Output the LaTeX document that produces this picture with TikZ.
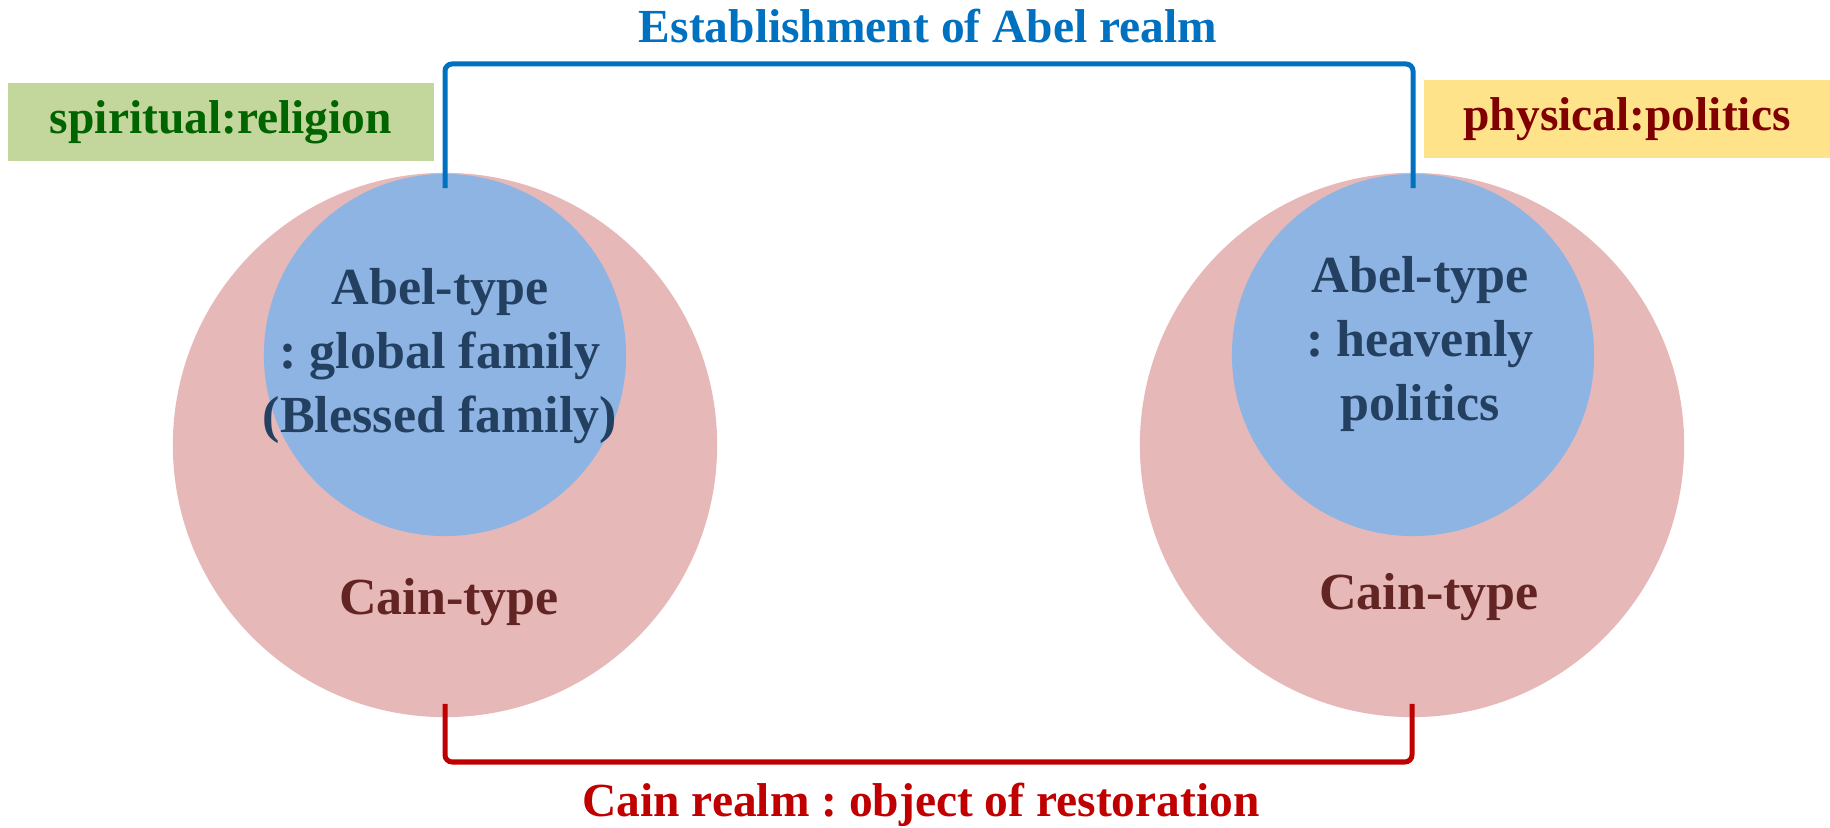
\documentclass[tikz,border=0pt]{standalone}
\usepackage{fontspec}
\setmainfont{Liberation Serif}
\frenchspacing
\usetikzlibrary{calc,positioning}

\definecolor{cainfill}{HTML}{E6B9B8}
\definecolor{abelfill}{HTML}{8EB4E3}
\definecolor{abeltext}{HTML}{244061}
\definecolor{caintext}{HTML}{632523}
\definecolor{abelblue}{HTML}{0070C0}
\definecolor{cainred}{HTML}{C00000}
\definecolor{spiritfill}{HTML}{C3D69B}
\definecolor{spirittext}{HTML}{006400}
\definecolor{physfill}{HTML}{FFE38A}
\definecolor{phystext}{HTML}{800000}

\begin{document}
\begin{tikzpicture}[
    x=0.01cm, y=-0.01cm,
    realm/.style={circle, inner sep=0, minimum size=5.44cm, fill=cainfill},
    abel/.style={circle, inner sep=0, minimum size=3.62cm, fill=abelfill},
    big/.style={font=\fontsize{14.8}{18.2}\selectfont\bfseries, align=center, inner sep=0},
    small/.style={font=\fontsize{13.5}{16}\selectfont\bfseries, inner sep=0},
    tagbox/.style={small, minimum height=0.78cm},
    bracket/.style={line width=0.05cm, rounded corners=2pt},
  ]
  \useasboundingbox (0,0) rectangle (1830,828);

  % realms
  \node[realm] (cainL) at (445,445) {};
  \node[abel] (abelL) at (445,355) {};
  \node[realm] (cainR) at (1412,445) {};
  \node[abel] (abelR) at (1413,355) {};

  % circle texts
  \node[big, text=abeltext] (abelLtxt) at (440,356) {Abel-type\\: global family\\(Blessed family)};
  \node[big, text=abeltext] (abelRtxt) at (1420,344) {Abel-type\\: heavenly\\politics};
  \node[big, text=caintext, anchor=base] (cainLtxt) at (449,615) {Cain-type};
  \node[big, text=caintext, anchor=base] (cainRtxt) at (1429,610) {Cain-type};

  % tags
  \node[tagbox, fill=spiritfill, text=spirittext, minimum width=4.26cm] (spirit) at (221,122) {spiritual:religion};
  \node[tagbox, fill=physfill, text=phystext, minimum width=4.06cm] (phys) at (1627,119) {physical:politics};

  % brackets
  \coordinate (top) at (928,64);
  \coordinate (bot) at (928,762);
  \draw[bracket, abelblue] ([yshift=-0.15cm]abelL.north) -- (abelL.north |- top) -- (abelR.north |- top) -- ([yshift=-0.15cm]abelR.north);
  \draw[bracket, cainred] ([yshift=0.14cm]cainL.south) -- (cainL.south |- bot) -- (cainR.south |- bot) -- ([yshift=0.14cm]cainR.south);

  \node[small, text=abelblue, anchor=base] (abelrealm) at (928,43) {Establishment of Abel realm};
  \node[small, text=cainred, anchor=base] (cainrealm) at (921,817) {Cain realm : object of restoration};

\end{tikzpicture}
\end{document}
